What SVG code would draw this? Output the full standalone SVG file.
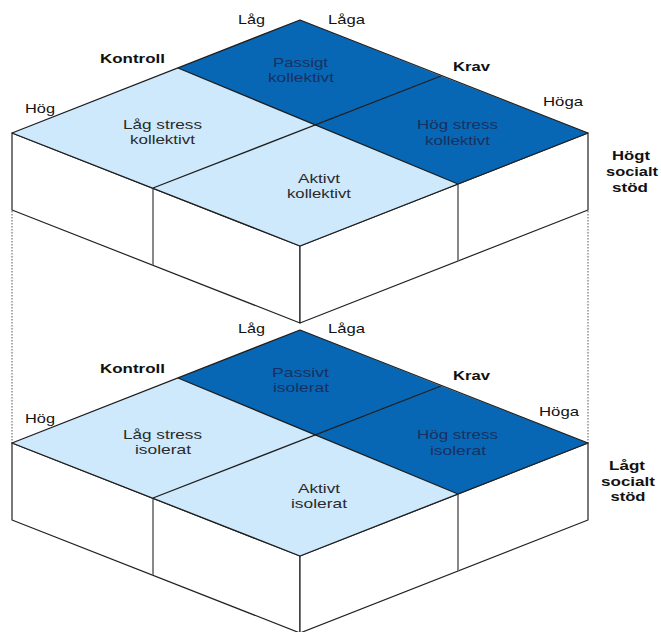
<svg xmlns="http://www.w3.org/2000/svg" width="661" height="632" viewBox="0 0 661 632">
<style>
text{font-family:"Liberation Sans",Arial,sans-serif;font-size:13.5px;text-anchor:middle}
.lbl{fill:#111}
.b{font-weight:bold}
.dk{fill:#19305f}
.lt{fill:#2a2a2a}
.light{fill:#cde9fb}
.dark{fill:#0767b5}
.front{fill:#fff;stroke:#222;stroke-width:1.2;stroke-linejoin:round}
.edge{fill:none;stroke:#1e1e1e;stroke-width:1.3;stroke-linejoin:round}
.div{stroke:#6a6a6a;stroke-width:1.6}
.dot{stroke:#555;stroke-width:1;stroke-dasharray:1.5 1.5;fill:none}
</style>
<defs>
<g id="blockShape">
<polygon class="front" points="12,133 300,246 300,323 12,210"/>
<polygon class="front" points="300,246 588,133 588,210 300,323"/>
<line class="div" x1="153" y1="188" x2="153" y2="265"/>
<line class="div" x1="458" y1="184" x2="458" y2="261"/>
<polygon class="light" points="300,20 12,133 300,246 588,133"/>
<polygon class="dark" points="300,20 178,68 315.3,124.9 441,76"/>
<polygon class="dark" points="441,76 315.3,124.9 458,184 588,133"/>
<line class="edge" x1="178" y1="68" x2="458" y2="184"/>
<line class="edge" x1="441" y1="76" x2="153" y2="188"/>
<polygon class="edge" points="300,20 12,133 300,246 588,133"/>
</g>
</defs>
<g id="connectors">
<line class="dot" x1="12" y1="211" x2="12" y2="443"/>
<line class="dot" x1="588" y1="211" x2="588" y2="443"/>
</g>
<g id="block-hogt">
<use href="#blockShape"/>
<g id="cell-passigt-kollektivt"><text class="dk" x="300.5" y="67" textLength="55" lengthAdjust="spacingAndGlyphs">Passigt</text><text class="dk" x="301" y="82" textLength="66" lengthAdjust="spacingAndGlyphs">kollektivt</text></g>
<g id="cell-lag-stress-kollektivt"><text class="lt" x="162.5" y="129" textLength="79" lengthAdjust="spacingAndGlyphs">Låg stress</text><text class="lt" x="162.5" y="144" textLength="65" lengthAdjust="spacingAndGlyphs">kollektivt</text></g>
<g id="cell-hog-stress-kollektivt"><text class="dk" x="457.5" y="129" textLength="81" lengthAdjust="spacingAndGlyphs">Hög stress</text><text class="dk" x="457.5" y="145" textLength="65" lengthAdjust="spacingAndGlyphs">kollektivt</text></g>
<g id="cell-aktivt-kollektivt"><text class="lt" x="319" y="183" textLength="42" lengthAdjust="spacingAndGlyphs">Aktivt</text><text class="lt" x="319" y="198" textLength="64" lengthAdjust="spacingAndGlyphs">kollektivt</text></g>
<g id="labels-hogt">
<text class="lbl" x="251.5" y="24" textLength="27" lengthAdjust="spacingAndGlyphs">Låg</text>
<text class="lbl" x="346.5" y="24" textLength="37" lengthAdjust="spacingAndGlyphs">Låga</text>
<text class="lbl b" x="132.5" y="63" textLength="65" lengthAdjust="spacingAndGlyphs">Kontroll</text>
<text class="lbl" x="40" y="113" textLength="30" lengthAdjust="spacingAndGlyphs">Hög</text>
<text class="lbl b" x="471.5" y="71" textLength="37" lengthAdjust="spacingAndGlyphs">Krav</text>
<text class="lbl" x="563" y="106" textLength="40" lengthAdjust="spacingAndGlyphs">Höga</text>
<text class="lbl b" x="631" y="160" textLength="38" lengthAdjust="spacingAndGlyphs">Högt</text>
<text class="lbl b" x="632" y="176" textLength="52" lengthAdjust="spacingAndGlyphs">socialt</text>
<text class="lbl b" x="630" y="192" textLength="36" lengthAdjust="spacingAndGlyphs">stöd</text>
</g>
</g>
<g id="block-lagt">
<use href="#blockShape" y="310"/>
<g id="cell-passivt-isolerat"><text class="dk" x="300.5" y="377" textLength="57" lengthAdjust="spacingAndGlyphs">Passivt</text><text class="dk" x="301" y="392" textLength="56" lengthAdjust="spacingAndGlyphs">isolerat</text></g>
<g id="cell-lag-stress-isolerat"><text class="lt" x="162.5" y="439" textLength="79" lengthAdjust="spacingAndGlyphs">Låg stress</text><text class="lt" x="163" y="454" textLength="56" lengthAdjust="spacingAndGlyphs">isolerat</text></g>
<g id="cell-hog-stress-isolerat"><text class="dk" x="457.5" y="439" textLength="81" lengthAdjust="spacingAndGlyphs">Hög stress</text><text class="dk" x="458" y="455" textLength="56" lengthAdjust="spacingAndGlyphs">isolerat</text></g>
<g id="cell-aktivt-isolerat"><text class="lt" x="319" y="493" textLength="42" lengthAdjust="spacingAndGlyphs">Aktivt</text><text class="lt" x="319" y="508" textLength="56" lengthAdjust="spacingAndGlyphs">isolerat</text></g>
<g id="labels-lagt">
<text class="lbl" x="251.5" y="333" textLength="27" lengthAdjust="spacingAndGlyphs">Låg</text>
<text class="lbl" x="346.5" y="333" textLength="37" lengthAdjust="spacingAndGlyphs">Låga</text>
<text class="lbl b" x="132.5" y="373" textLength="65" lengthAdjust="spacingAndGlyphs">Kontroll</text>
<text class="lbl" x="40" y="423" textLength="30" lengthAdjust="spacingAndGlyphs">Hög</text>
<text class="lbl b" x="471.5" y="380" textLength="37" lengthAdjust="spacingAndGlyphs">Krav</text>
<text class="lbl" x="559" y="416" textLength="40" lengthAdjust="spacingAndGlyphs">Höga</text>
<text class="lbl b" x="627" y="470" textLength="36" lengthAdjust="spacingAndGlyphs">Lågt</text>
<text class="lbl b" x="628" y="486" textLength="54" lengthAdjust="spacingAndGlyphs">socialt</text>
<text class="lbl b" x="628" y="501" textLength="35" lengthAdjust="spacingAndGlyphs">stöd</text>
</g>
</g>
</svg>
